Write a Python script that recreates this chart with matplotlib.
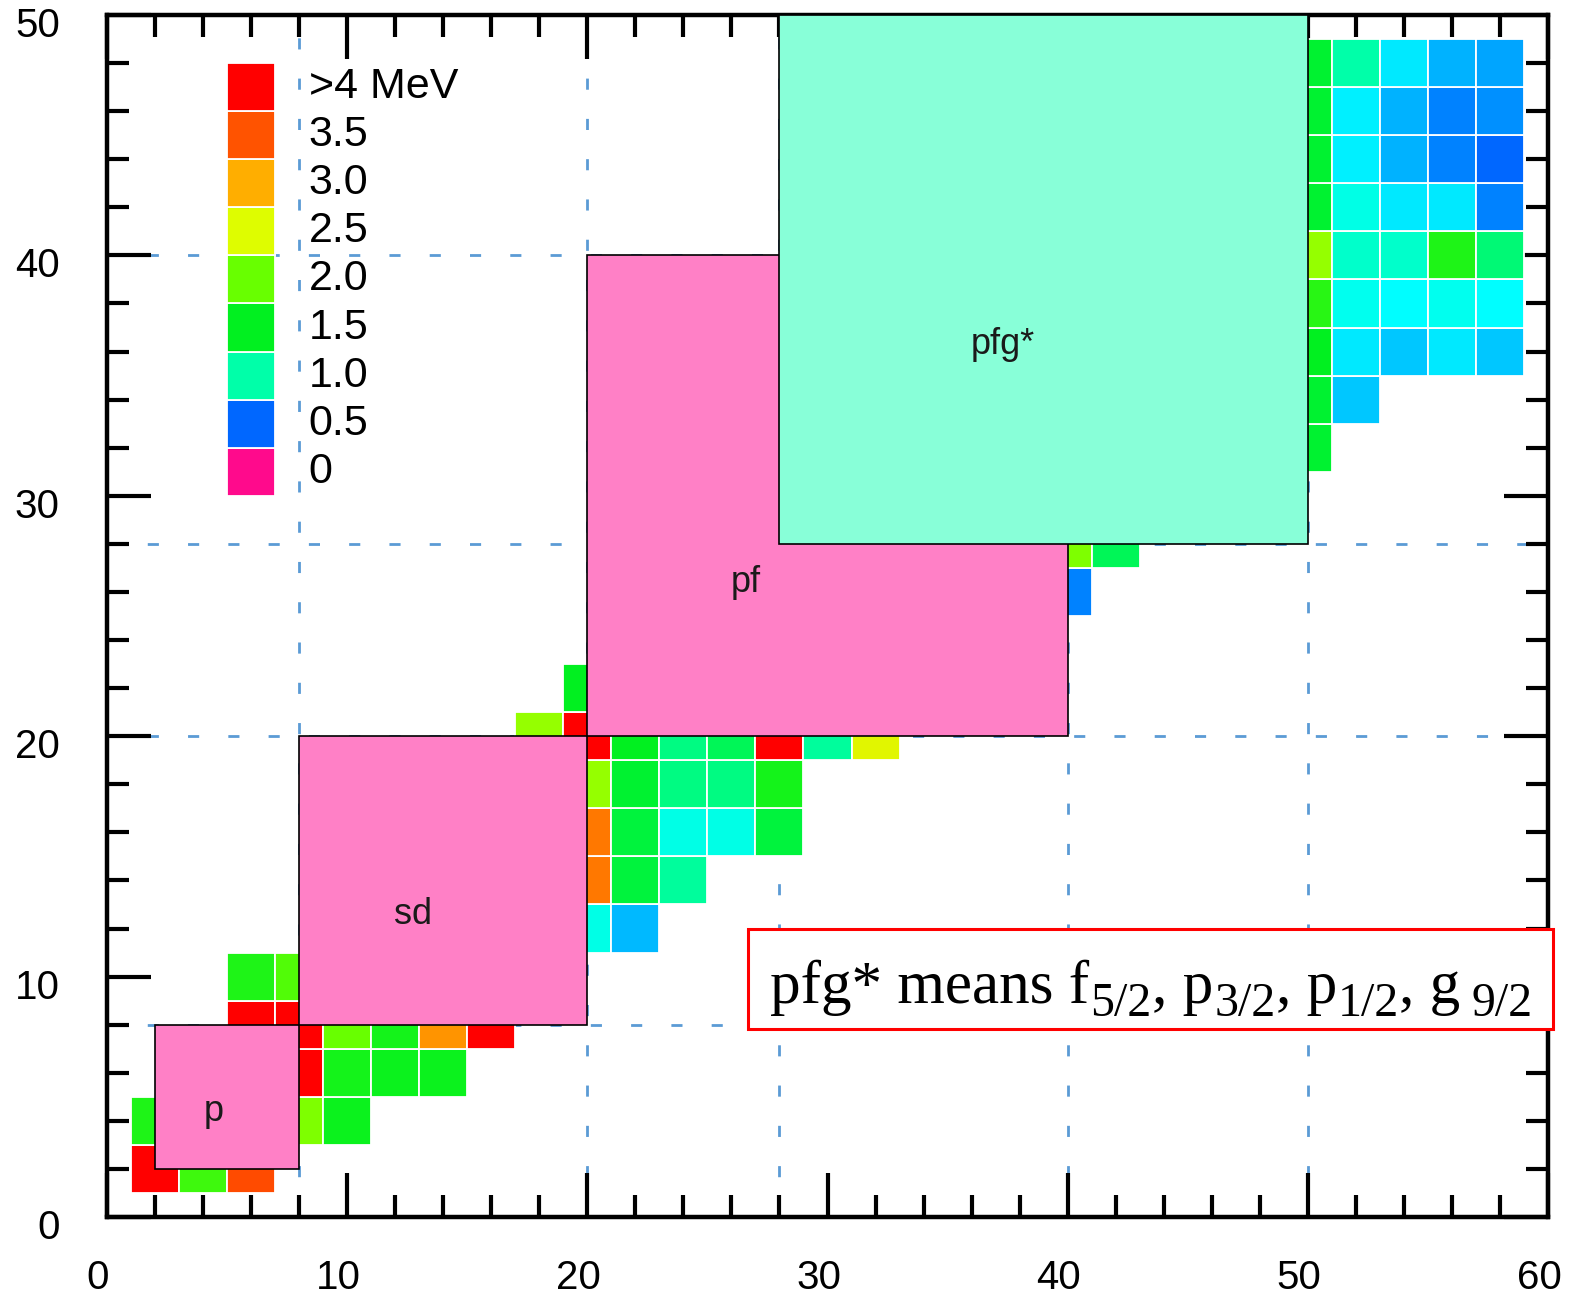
import matplotlib
matplotlib.use("Agg")
import matplotlib.pyplot as plt
from matplotlib.patches import Rectangle
from matplotlib.colors import LinearSegmentedColormap, Normalize
from matplotlib.ticker import MultipleLocator
import matplotlib.transforms as mtransforms

plt.rcParams['font.family'] = ['Liberation Sans', 'DejaVu Sans']

# ---------------- data ----------------
# even-even nuclei: neutron number N (x), proton number Z (y), E(2+) in MeV
cell_N = [2, 4, 6,
          2, 8, 10,
          8, 10, 12, 14,
          6, 8, 10, 12, 14, 16,
          6, 8,
          20, 22,
          20, 22, 24,
          20, 22, 24, 26, 28,
          20, 22, 24, 26, 28,
          18, 20, 22, 24, 26, 28, 30, 32,
          20,
          40,
          40, 42,
          50,
          50, 52,
          50, 52, 54, 56, 58,
          50, 52, 54, 56, 58,
          50, 52, 54, 56, 58,
          50, 52, 54, 56, 58,
          50, 52, 54, 56, 58,
          50, 52, 54, 56, 58,
          50, 52, 54, 56, 58]
cell_Z = [2, 2, 2,
          4, 4, 4,
          6, 6, 6, 6,
          8, 8, 8, 8, 8, 8,
          10, 10,
          12, 12,
          14, 14, 14,
          16, 16, 16, 16, 16,
          18, 18, 18, 18, 18,
          20, 20, 20, 20, 20, 20, 20, 20,
          22,
          26,
          28, 28,
          32,
          34, 34,
          36, 36, 36, 36, 36,
          38, 38, 38, 38, 38,
          40, 40, 40, 40, 40,
          42, 42, 42, 42, 42,
          44, 44, 44, 44, 44,
          46, 46, 46, 46, 46,
          48, 48, 48, 48, 48]
cell_E = [4.5, 1.8, 3.55,
          1.65, 2.1, 1.55,
          4.5, 1.6, 1.55, 1.55,
          4.5, 4.5, 2.0, 1.6, 3.15, 4.5,
          1.65, 1.9,
          0.9, 0.7,
          3.3, 1.4, 1.05,
          3.3, 1.4, 0.9, 0.9, 1.4,
          2.2, 1.45, 1.15, 1.15, 1.6,
          2.2, 4.5, 1.5, 1.15, 1.3, 4.2, 1.05, 2.55,
          1.5,
          0.57,
          2.1, 1.3,
          1.45,
          1.45, 0.72,
          1.5, 0.8, 0.72, 0.8, 0.72,
          1.7, 0.88, 0.85, 0.88, 0.85,
          2.2, 0.95, 0.95, 1.65, 1.2,
          1.45, 0.9, 0.8, 0.8, 0.57,
          1.45, 0.82, 0.68, 0.57, 0.5,
          1.45, 0.82, 0.68, 0.57, 0.6,
          1.45, 1.0, 0.8, 0.68, 0.65]

shell_names = ['p', 'sd', 'pf', 'pfg*']
shell_lo = [2, 8, 20, 28]
shell_hi = [8, 20, 40, 50]

legend_values = [0.0, 0.5, 1.0, 1.5, 2.0, 2.5, 3.0, 3.5, 4.0]
legend_labels = ['0', '0.5', '1.0', '1.5', '2.0', '2.5', '3.0', '3.5', '>4 MeV']

magic_numbers = [8, 20, 28, 40, 50]

x_ticks = [0, 10, 20, 30, 40, 50, 60]
y_ticks = [0, 10, 20, 30, 40, 50]

# note text: (piece, is_subscript)
note_pieces = [('pfg* means f', False), ('5/2', True), (', p', False),
               ('3/2', True), (', p', False), ('1/2', True), (', g', False),
               ('9/2', True)]

# ---------------- style ----------------
cmap = LinearSegmentedColormap.from_list('e2', [
    (0.0 / 4, '#ff0a8c'),
    (0.5 / 4, '#0066ff'),
    (0.85 / 4, '#00ffff'),
    (1.0 / 4, '#00ffaa'),
    (1.5 / 4, '#00f020'),
    (2.0 / 4, '#66ff00'),
    (2.5 / 4, '#ddff00'),
    (3.0 / 4, '#ffb000'),
    (3.5 / 4, '#ff5500'),
    (4.0 / 4, '#ff0000')])
norm = Normalize(vmin=0.0, vmax=4.0, clip=True)
shell_colors = ['#ff80c6', '#ff80c6', '#ff80c6', '#88ffd8']
shell_label_pos = [(4.45, 4.4), (12.75, 12.6), (26.6, 26.4), (37.3, 36.3)]

W, H, DPI = 1581, 1294, 100
fig = plt.figure(figsize=(W / DPI, H / DPI), dpi=DPI)
ax = fig.add_axes([107 / W, 77 / H, 1441 / W, 1202 / H])
ax.set_xlim(0, 60)
ax.set_ylim(0, 50)

# magic-number guide lines
for m in magic_numbers:
    ax.axvline(m, color='#5b9bd5', lw=2.0, dashes=(4.0, 10.5), zorder=0.5)
    ax.axhline(m, color='#5b9bd5', lw=2.0, dashes=(4.0, 10.5), zorder=0.5)

# nuclei cells
for n, z, e in zip(cell_N, cell_Z, cell_E):
    ax.add_patch(Rectangle((n - 1, z - 1), 2, 2, facecolor=cmap(norm(e)),
                           edgecolor='white', lw=1.3, zorder=2))

# shell-model spaces
for name, lo, hi, col, pos in zip(shell_names, shell_lo, shell_hi,
                                  shell_colors, shell_label_pos):
    ax.add_patch(Rectangle((lo, lo), hi - lo, hi - lo, facecolor=col,
                           edgecolor='black', lw=1.2, zorder=3))
    ax.text(pos[0], pos[1], name, fontsize=26, color='#1a1a1a',
            ha='center', va='center', zorder=4)

# colour legend
for i, (v, lab) in enumerate(zip(legend_values, legend_labels)):
    ax.add_patch(Rectangle((5, 30 + 2 * i), 2, 2, facecolor=cmap(norm(v)),
                           edgecolor='white', lw=1.3, zorder=2))
    ax.text(8.4, 31 + 2 * i, lab, fontsize=31, ha='left', va='center',
            zorder=4)

# note box
ax.add_patch(Rectangle((26.7, 7.8), 33.5, 4.2, facecolor='white',
                       edgecolor='#ff0000', lw=2.2, zorder=10, clip_on=False))
base_y = 8.9
prev = None
for piece, sub in note_pieces:
    size = 34.5 if sub else 44
    if prev is None:
        prev = ax.text(27.6, base_y, piece, fontsize=size,
                       family='Liberation Serif', ha='left', va='baseline',
                       zorder=11)
    else:
        xoff = 1 if sub else 0
        if piece == '9/2':
            xoff = 8
        prev = ax.annotate(piece, xy=(1, base_y),
                           xycoords=(prev, ax.transData),
                           xytext=(xoff, -9 if sub else 0),
                           textcoords='offset points', fontsize=size,
                           family='Liberation Serif', ha='left',
                           va='baseline', zorder=11, annotation_clip=False)

# axes styling
ax.set_xticks(x_ticks)
ax.set_yticks(y_ticks)
ax.xaxis.set_minor_locator(MultipleLocator(2))
ax.yaxis.set_minor_locator(MultipleLocator(2))
ax.tick_params(which='both', direction='in', top=True, right=True,
               width=3, color='black')
ax.tick_params(which='major', length=32, labelsize=29)
ax.tick_params(which='minor', length=16)
ax.tick_params(axis='x', which='major', pad=30)
ax.tick_params(axis='y', which='major', pad=34)
for s in ax.spines.values():
    s.set_linewidth(3.2)

dx = mtransforms.ScaledTranslation(-9 / DPI, 0, fig.dpi_scale_trans)
dy = mtransforms.ScaledTranslation(0, -7 / DPI, fig.dpi_scale_trans)
for t in ax.xaxis.get_major_ticks():
    t.label1.set_transform(t.label1.get_transform() + dx)
for t in ax.yaxis.get_major_ticks():
    t.label1.set_transform(t.label1.get_transform() + dy)

fig.savefig('out.png', dpi=DPI)
